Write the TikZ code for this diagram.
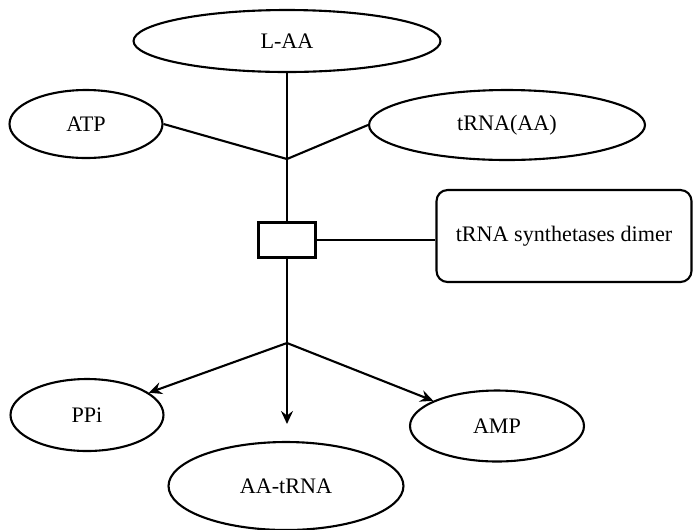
\documentclass[tikz,border=0pt]{standalone}
\usepackage{fontspec}
\setmainfont{Liberation Serif}
\usetikzlibrary{shapes.geometric,arrows.meta}

\begin{document}
\begin{tikzpicture}[x=0.02cm, y=-0.02cm, line width=1.2pt,
        font=\fontsize{12.6}{14}\selectfont,
        mol/.style = {draw, ellipse, inner sep=0pt},
        enz/.style = {draw, rectangle, inner sep=0pt, minimum width=1.14cm, minimum height=0.70cm},
        lbl/.style = {draw, rectangle, rounded corners=0.22cm, inner sep=0pt, minimum width=5.10cm, minimum height=1.84cm},
        prod/.style = {-{Stealth[length=2.6mm, width=2.4mm, inset=0.9mm]}}]
        \useasboundingbox (0,0) rectangle (693,529);
        % substrates
        \node[mol, minimum width=6.14cm, minimum height=1.24cm] (laa) at (287,41) {L-AA};
        \node[mol, minimum width=3.06cm, minimum height=1.36cm] (atp) at (86,124) {ATP};
        \node[mol, minimum width=5.52cm, minimum height=1.40cm] (trnaaa) at (507,125) {tRNA(AA)};
        \coordinate (j1) at (287,159);
        % enzyme
        \node[enz] (syn) at (287,240) {};
        \node[lbl] (dimer) at (564,236) {tRNA synthetases dimer};
        \coordinate (j2) at (287,343);
        % products
        \node[mol, minimum width=3.06cm, minimum height=1.44cm] (ppi) at (87,415) {PPi};
        \node[mol, minimum width=4.70cm, minimum height=1.76cm] (aatrna) at (286,486) {AA-tRNA};
        \node[mol, minimum width=3.48cm, minimum height=1.42cm] (amp) at (497,426) {AMP};
        \draw (laa) -- (j1) -- (syn);
        \draw (atp.east) -- (j1);
        \draw (trnaaa.west) -- (j1);
        \draw (syn.east) -- (dimer.west |- syn.east);
        \draw (syn) -- (j2);
        \draw[prod] (j2) -- (ppi);
        \draw[prod, shorten >=0.34cm] (j2) -- (j2 |- aatrna.north);
        \draw[prod] (j2) -- (amp);
      \end{tikzpicture}
\end{document}
